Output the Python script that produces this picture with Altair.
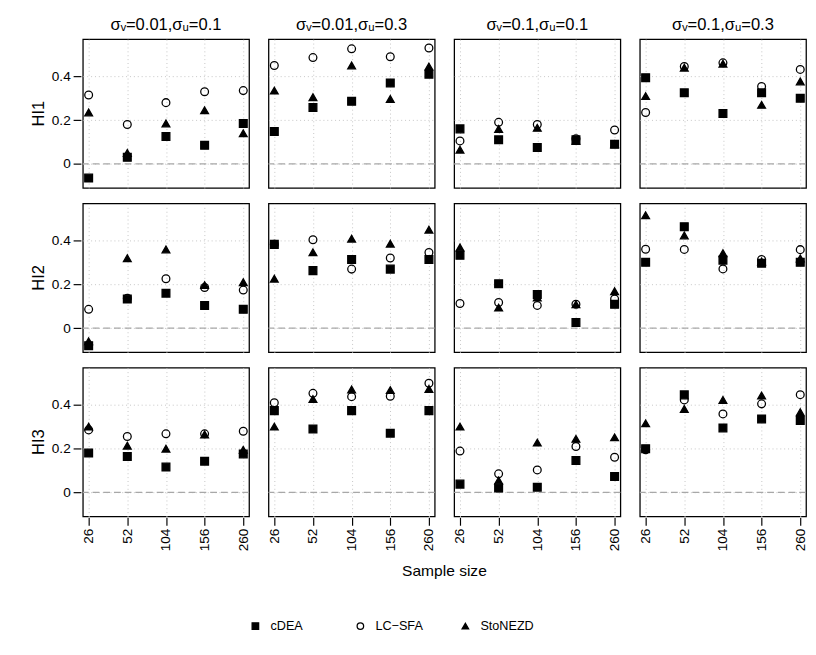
import altair as alt
import pandas as pd

sizes = [26, 52, 104, 156, 260]
methods = ["cDEA", "LC−SFA", "StoNEZD"]
indices = ["HI1", "HI2", "HI3"]
sigmas = ["σᵥ=0.01,σᵤ=0.1", "σᵥ=0.01,σᵤ=0.3", "σᵥ=0.1,σᵤ=0.1", "σᵥ=0.1,σᵤ=0.3"]

# each list: 4 sigma settings (panels, left to right) x 5 sample sizes
HI1_cDEA = [-0.065, 0.03, 0.125, 0.085, 0.185, 0.148, 0.258, 0.286, 0.37, 0.41,
            0.16, 0.11, 0.075, 0.11, 0.09, 0.394, 0.325, 0.23, 0.325, 0.3]
HI1_LCSFA = [0.315, 0.18, 0.28, 0.33, 0.335, 0.45, 0.486, 0.526, 0.49, 0.53,
             0.105, 0.19, 0.18, 0.115, 0.155, 0.235, 0.445, 0.462, 0.354, 0.432]
HI1_StoNEZD = [0.235, 0.05, 0.185, 0.245, 0.14, 0.335, 0.305, 0.45, 0.297, 0.445,
               0.065, 0.16, 0.165, 0.105, 0.09, 0.31, 0.44, 0.458, 0.27, 0.377]
HI2_cDEA = [-0.08, 0.133, 0.16, 0.104, 0.086, 0.383, 0.263, 0.314, 0.27, 0.314,
            0.333, 0.203, 0.154, 0.026, 0.109, 0.301, 0.464, 0.311, 0.297, 0.301]
HI2_LCSFA = [0.086, 0.137, 0.226, 0.186, 0.174, 0.383, 0.404, 0.27, 0.321, 0.346,
             0.113, 0.117, 0.104, 0.109, 0.133, 0.361, 0.36, 0.271, 0.314, 0.359]
HI2_StoNEZD = [-0.06, 0.32, 0.36, 0.197, 0.21, 0.226, 0.347, 0.409, 0.386, 0.45,
               0.369, 0.094, 0.14, 0.109, 0.169, 0.516, 0.424, 0.343, 0.305, 0.319]
HI3_cDEA = [0.18, 0.164, 0.116, 0.143, 0.176, 0.374, 0.29, 0.374, 0.271, 0.374,
            0.038, 0.02, 0.024, 0.146, 0.073, 0.2, 0.446, 0.295, 0.336, 0.329]
HI3_LCSFA = [0.286, 0.256, 0.268, 0.268, 0.28, 0.41, 0.453, 0.438, 0.44, 0.499,
             0.189, 0.085, 0.103, 0.21, 0.161, 0.195, 0.423, 0.359, 0.405, 0.447]
HI3_StoNEZD = [0.301, 0.214, 0.2, 0.265, 0.195, 0.301, 0.427, 0.471, 0.468, 0.473,
               0.301, 0.055, 0.228, 0.245, 0.252, 0.316, 0.382, 0.423, 0.443, 0.367]

series = {
    ("HI1", methods[0]): HI1_cDEA, ("HI1", methods[1]): HI1_LCSFA, ("HI1", methods[2]): HI1_StoNEZD,
    ("HI2", methods[0]): HI2_cDEA, ("HI2", methods[1]): HI2_LCSFA, ("HI2", methods[2]): HI2_StoNEZD,
    ("HI3", methods[0]): HI3_cDEA, ("HI3", methods[1]): HI3_LCSFA, ("HI3", methods[2]): HI3_StoNEZD,
}

rows = []
for (idx, m), vals in series.items():
    for p, sg in enumerate(sigmas):
        for k, n in enumerate(sizes):
            rows.append({"hi": idx, "method": m, "sigma": sg, "n": n, "value": vals[p * 5 + k]})
df = pd.DataFrame(rows)

FONT = "Liberation Sans"

legend_cfg = alt.Legend(title=None, orient="none", direction="horizontal",
                        legendX=171, legendY=597, columnPadding=31, gridAlign="all",
                        symbolSize=45, symbolStrokeWidth=1.3,
                        labelFontSize=13, labelFont=FONT, labelColor="black", labelOffset=9)

zero = alt.Chart().mark_rule(color="#a8a8a8", strokeDash=[7, 4], strokeWidth=1.2).encode(
    y=alt.datum(0)
).transform_filter(alt.datum.n == 26).transform_filter(alt.datum.method == methods[0])

pts = alt.Chart().mark_point(size=64, filled=True, strokeWidth=1.3, opacity=1).encode(
    x=alt.X("n:O", sort=sizes, title=None,
            scale=alt.Scale(type="point", padding=0.15),
            axis=alt.Axis(labelAngle=-90, grid=True, gridDash=[1, 3], gridColor="#c4c4c4",
                          tickSize=8, tickColor="black", tickWidth=1.2, labelPadding=3,
                          domain=False, labelFontSize=14, labelFont=FONT, labelColor="black")),
    y=alt.Y("value:Q", title=None,
            scale=alt.Scale(domain=[-0.11, 0.57], nice=False, zero=False),
            axis=alt.Axis(values=[0, 0.2, 0.4], format="~g", grid=True, gridDash=[1, 3],
                          gridColor="#c4c4c4", tickSize=8, tickColor="black", tickWidth=1.2,
                          labelPadding=3, domain=False, labelFontSize=14, labelFont=FONT,
                          labelColor="black")),
    shape=alt.Shape("method:N", scale=alt.Scale(domain=methods, range=["square", "circle", "triangle-up"]),
                    legend=legend_cfg),
    fill=alt.Fill("method:N", scale=alt.Scale(domain=methods, range=["black", "transparent", "black"]),
                  legend=legend_cfg),
    stroke=alt.Stroke("method:N", scale=alt.Scale(domain=methods, range=["black", "black", "black"]),
                      legend=legend_cfg),
)

chart = alt.layer(zero, pts, data=df).properties(width=171, height=153).facet(
    row=alt.Row("hi:N", sort=indices, title=None,
                header=alt.Header(labelAngle=-90, labelOrient="left", labelFontSize=17,
                                  labelFont=FONT, labelColor="black", labelPadding=-14,
                                  labelAlign="center", labelBaseline="bottom")),
    column=alt.Column("sigma:N", sort=sigmas, title="Sample size",
                      header=alt.Header(labelOrient="top", titleOrient="bottom", labelFontSize=17,
                                        labelFont=FONT, labelColor="black", labelPadding=4,
                                        titleFontSize=16, titleFont=FONT, titleColor="black",
                                        titleFontWeight="normal", titlePadding=2)),
    spacing={"row": 14, "column": 16},
).properties(
    padding={"left": 23, "top": 0, "right": 0, "bottom": 0}
).configure_view(stroke="black", strokeWidth=1.3)

chart.save("out.html", embed_options={"renderer": "svg", "actions": False})
